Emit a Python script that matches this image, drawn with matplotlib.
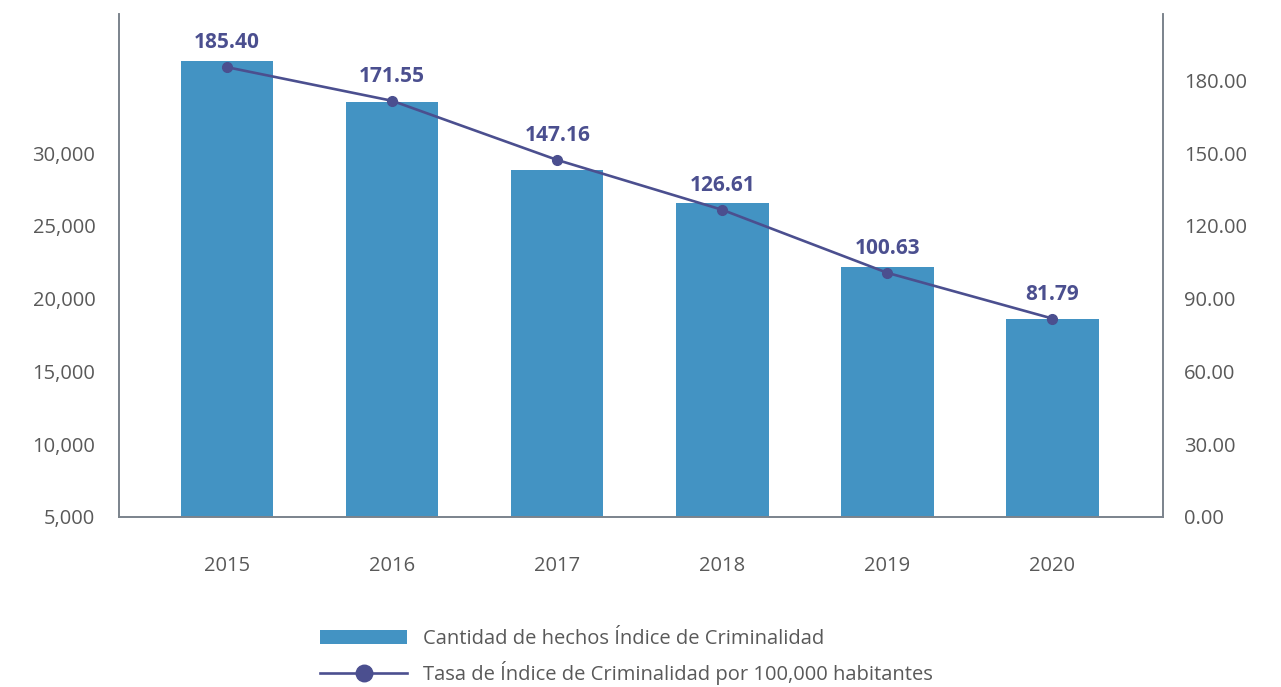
import numpy as np
import matplotlib
matplotlib.use("Agg")
from matplotlib import pyplot as plt
from matplotlib.ticker import FuncFormatter

plt.rcParams['font.family'] = ['Open Sans', 'DejaVu Sans']

years = ['2015', '2016', '2017', '2018', '2019', '2020']
hechos = [36320, 33500, 28830, 26570, 22170, 18600]
tasa = [185.40, 171.55, 147.16, 126.61, 100.63, 81.79]

bar_color = '#4393c3'
line_color = '#4b4f8f'
text_color = '#595959'
spine_color = '#7b838c'

fig = plt.figure(figsize=(12.81, 6.87), dpi=100)
ax = fig.add_axes([0.0929, 0.2475, 0.815, 0.732])
ax2 = ax.twinx()

x = np.arange(len(years))
bars = ax.bar(x, hechos, width=0.56, color=bar_color, zorder=2,
              label='Cantidad de hechos Índice de Criminalidad')
line, = ax2.plot(x, tasa, color=line_color, lw=1.9, marker='o', ms=7,
                 label='Tasa de Índice de Criminalidad por 100,000 habitantes')

for xi, v in zip(x, tasa):
    ax2.annotate(f'{v:.2f}', (xi, v), xytext=(0, 10), textcoords='offset points',
                 ha='center', va='bottom', fontsize=15, fontweight='bold',
                 color=line_color)

ax.set_xlim(-0.655, 5.67)
ax.set_ylim(5000, 39550)
ax2.set_ylim(0, 207.3)
ax.set_yticks([5000, 10000, 15000, 20000, 25000, 30000])
ax2.set_yticks([0, 30, 60, 90, 120, 150, 180])
ax.yaxis.set_major_formatter(FuncFormatter(lambda v, p: f'{v:,.0f}'))
ax2.yaxis.set_major_formatter(FuncFormatter(lambda v, p: f'{v:.2f}'))
ax.set_xticks(x)
ax.set_xticklabels(years)

ax.tick_params(axis='y', length=0, pad=17, labelsize=14.5, labelcolor=text_color)
ax.tick_params(axis='x', length=0, pad=28, labelsize=14.5, labelcolor=text_color)
ax2.tick_params(axis='y', length=0, pad=15, labelsize=14.5, labelcolor=text_color)

for a in (ax, ax2):
    a.spines['top'].set_visible(False)
    for s in ('left', 'right', 'bottom'):
        a.spines[s].set_color(spine_color)
        a.spines[s].set_linewidth(1.2)

fig.legend(handles=[bars, line], loc='upper left', bbox_to_anchor=(0.25, 0.085),
           frameon=False, fontsize=14.5, handlelength=4.3, labelspacing=0.6,
           borderpad=0, borderaxespad=0, markerscale=1.7, labelcolor=text_color,
           handletextpad=0.8)

fig.savefig('out.png', dpi=100)
